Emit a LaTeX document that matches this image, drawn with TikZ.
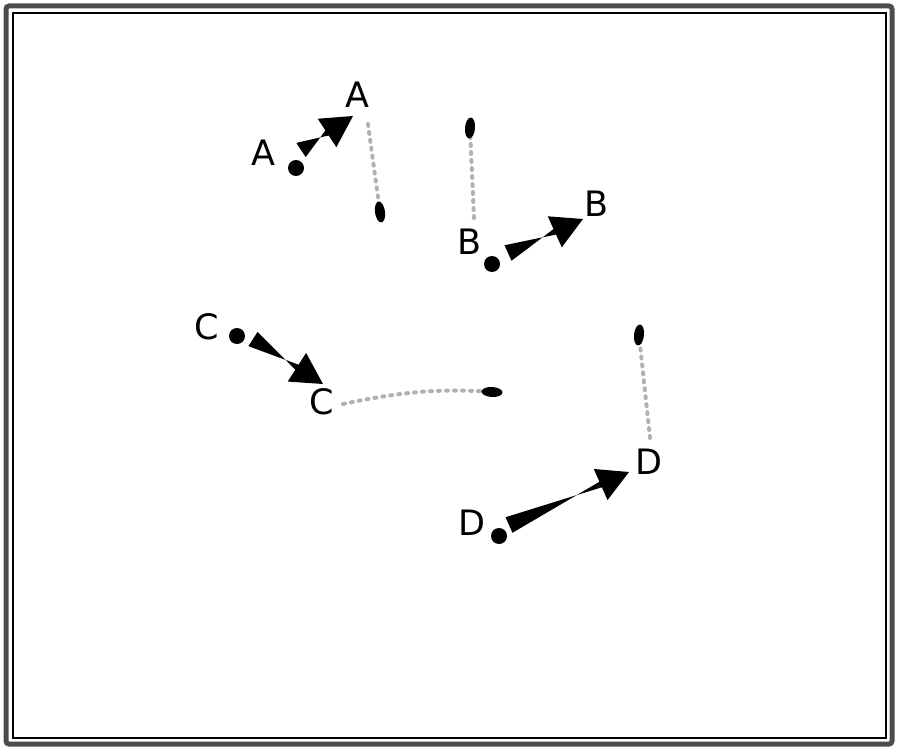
\documentclass[tikz,border=0pt]{standalone}
\usepackage{fontspec}
\setmainfont{DejaVu Sans}
\usetikzlibrary{calc,shapes.geometric}
\newcommand{\fatarrow}[2]{%
  \coordinate (#1base) at ($(#2)!31pt!(#1)$);
  \fill[black] ($(#1)!8.5pt!90:(#2)$) -- ($(#1base)!3pt!-90:(#2)$) --
    ($(#1base)!17pt!-90:(#2)$) -- (#2) -- ($(#1base)!17pt!90:(#2)$) --
    ($(#1base)!3pt!90:(#2)$) -- ($(#1)!8.5pt!-90:(#2)$) -- cycle;
}
\begin{document}
\begin{tikzpicture}[x=1pt,y=-1pt,
  lbl/.style={font=\fontsize{35}{37}\selectfont, inner sep=0pt},
  pt/.style={circle, fill=black, minimum size=16pt, inner sep=0pt},
  trail/.style={draw=black!30, line width=4pt, line cap=round, dash pattern=on 2pt off 6pt},
  blob/.style={ellipse, fill=black, minimum width=21pt, minimum height=10pt, inner sep=0pt}]
\useasboundingbox (0,0) rectangle (900,752);
% frame
\draw[black!70, line width=5pt, rounded corners=3pt] (6,6) rectangle (892,744);
\draw[black, line width=1.5pt] (13,13) rectangle (886,738);

% group A
\node[lbl] (A1) at (263,153) {A};
\node[pt] (pA) at (296,168) {};
\coordinate (tA) at (301,150);
\coordinate (hA) at (353,116);
\fatarrow{tA}{hA}
\node[lbl] (A2) at (357,95) {A};
\coordinate (sA) at (368,124);
\coordinate (eA) at (380,212);
\draw[trail] (sA) -- (eA);
\node[blob, rotate=-82] (bA) at (eA) {};

% group B
\node[lbl] (B1) at (470,242) {B};
\node[pt] (pB) at (492,264) {};
\coordinate (tB) at (508,253);
\coordinate (hB) at (583,219);
\fatarrow{tB}{hB}
\node[lbl] (B2) at (596,204) {B};
\coordinate (sB) at (474,218);
\coordinate (eB) at (470,128);
\draw[trail] (sB) -- (eB);
\node[blob, rotate=-95] (bB) at (eB) {};

% group C
\node[lbl] (C1) at (207,327) {C};
\node[pt] (pC) at (237,336) {};
\coordinate (tC) at (253,339);
\coordinate (hC) at (323,384);
\fatarrow{tC}{hC}
\node[lbl] (C2) at (322,402) {C};
\coordinate (sC) at (343,404);
\coordinate (eC) at (492,392);
\draw[trail] (sC) .. controls (400,392) and (440,388) .. (eC);
\node[blob, rotate=-3] (bC) at (eC) {};

% group D
\node[lbl] (D1) at (472,523) {D};
\node[pt] (pD) at (499,536) {};
\coordinate (tD) at (509,525);
\coordinate (hD) at (629,472);
\fatarrow{tD}{hD}
\node[lbl] (D2) at (649,462) {D};
\coordinate (sD) at (650,438);
\coordinate (eD) at (639,335);
\draw[trail] (sD) -- (eD);
\node[blob, rotate=-96] (bD) at (eD) {};
\end{tikzpicture}
\end{document}
